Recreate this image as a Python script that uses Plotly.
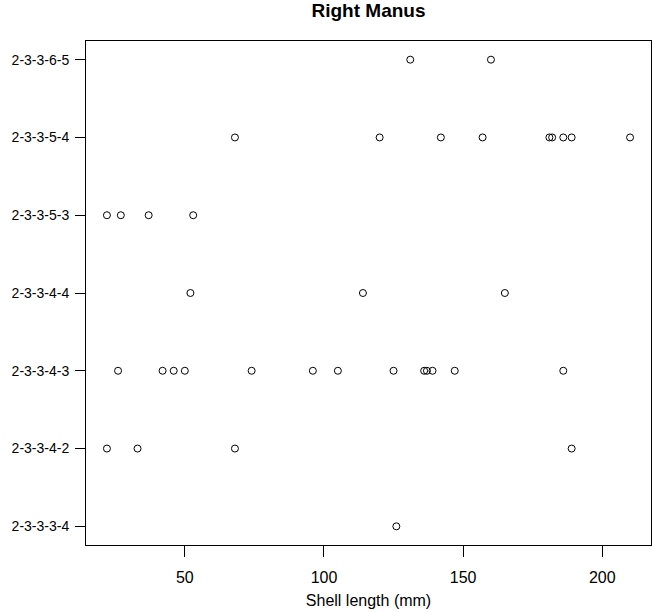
import plotly.graph_objects as go

# Categories (bottom to top) and shell lengths (mm) per category
categories = ["2-3-3-3-4", "2-3-3-4-2", "2-3-3-4-3", "2-3-3-4-4",
              "2-3-3-5-3", "2-3-3-5-4", "2-3-3-6-5"]
vals_2_3_3_3_4 = [126]
vals_2_3_3_4_2 = [22, 33, 68, 189]
vals_2_3_3_4_3 = [26, 42, 46, 50, 74, 96, 105, 125, 136, 137, 139, 147, 186]
vals_2_3_3_4_4 = [52, 114, 165]
vals_2_3_3_5_3 = [22, 27, 37, 53]
vals_2_3_3_5_4 = [68, 120, 142, 157, 181, 182, 186, 189, 210]
vals_2_3_3_6_5 = [131, 160]
series = [vals_2_3_3_3_4, vals_2_3_3_4_2, vals_2_3_3_4_3, vals_2_3_3_4_4,
          vals_2_3_3_5_3, vals_2_3_3_5_4, vals_2_3_3_6_5]
x_ticks = [50, 100, 150, 200]

xs, ys = [], []
for cat, vals in zip(categories, series):
    xs.extend(vals)
    ys.extend([cat] * len(vals))

FONT = "Liberation Sans, Arial, sans-serif"

fig = go.Figure()
fig.add_trace(go.Scatter(
    x=xs, y=ys, mode="markers",
    marker=dict(symbol="circle-open", size=7, color="black",
                line=dict(width=1, color="black")),
    showlegend=False, hoverinfo="x+y",
))

allv = [v for s in series for v in s]
lo, hi = min(allv), max(allv)
pad = (hi - lo) * 0.04

fig.update_layout(
    width=652, height=612,
    margin=dict(l=86, r=1, t=41, b=67),
    paper_bgcolor="white", plot_bgcolor="white",
    font=dict(family=FONT, color="black", size=16),
    title=dict(text="<b>Right Manus</b>", x=0.5, xref="paper",
               y=1 - 10 / 612, yanchor="middle",
               font=dict(size=19, family=FONT, color="black")),
    xaxis=dict(
        range=[lo - pad, hi + pad],
        tickvals=x_ticks, ticks="outside", ticklen=11, tickwidth=1,
        tickcolor="black", showgrid=False, zeroline=False,
        showline=True, linecolor="black", linewidth=1, mirror=True,
        tickfont=dict(size=16, family=FONT),
        ticklabelstandoff=7,
        title=dict(text="Shell length (mm)", font=dict(size=16, family=FONT),
                   standoff=9),
    ),
    yaxis=dict(
        type="category", categoryorder="array", categoryarray=categories,
        range=[-0.24, len(categories) - 1 + 0.24],
        ticks="outside", ticklen=10, tickwidth=1, tickcolor="black",
        showgrid=False, zeroline=False,
        showline=True, linecolor="black", linewidth=1, mirror=True,
        tickfont=dict(size=14, family=FONT),
        ticklabelstandoff=3,
    ),
)

page_fix = (
    "document.body.style.margin='0';document.body.style.padding='0';"
    "document.documentElement.style.overflow='hidden';"
    "document.body.style.overflow='hidden';"
)

fig.write_html("out.html", config={"displayModeBar": False}, post_script=page_fix)
